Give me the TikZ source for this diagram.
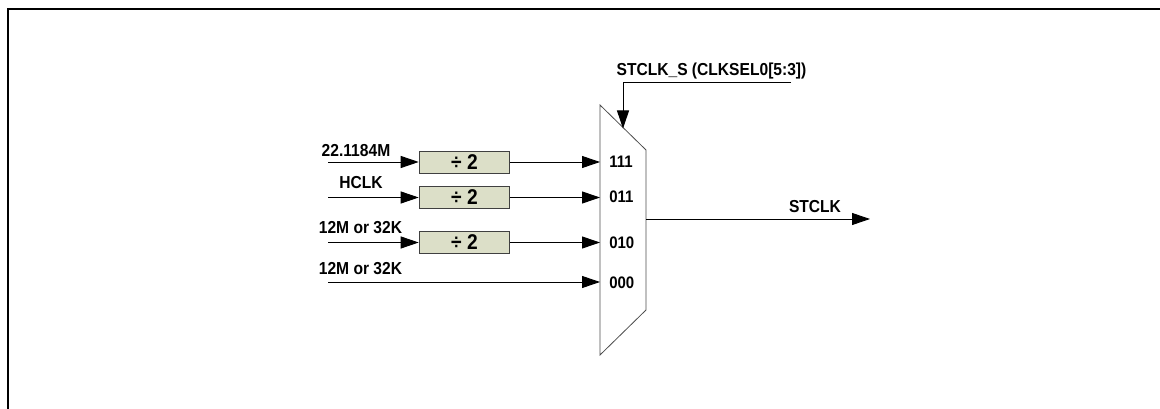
\documentclass[tikz,border=0pt]{standalone}
\usepackage{fontspec}
\setmainfont{Liberation Sans}[FakeStretch=0.9]
\usetikzlibrary{arrows.meta}
\definecolor{divfill}{HTML}{DCDFC8}
\tikzset{
  lbl/.style={font=\bfseries\fontsize{13}{15}\selectfont, inner sep=0pt},
  sellbl/.style={font=\bfseries\fontsize{12.5}{14}\selectfont, inner sep=0pt, anchor=west},
  divbox/.style={draw=black!75, fill=divfill, line width=0.7pt, minimum width=68pt,
    minimum height=16.5pt, inner sep=0pt, font=\bfseries\fontsize{16}{18}\selectfont},
  sig/.style={line width=0.7pt, -{Triangle[length=13.5pt,width=9pt]}},
}
\begin{document}
\begin{tikzpicture}[x=0.75pt,y=-0.75pt]
  \useasboundingbox (0,0) rectangle (1160,409);
  \draw[line width=2pt] (8,409) -- (8,9) -- (1160,9);
  % multiplexer
  \draw[black!70, line width=0.6pt] (600,105) -- (646,150) -- (646,310) -- (600,355) -- cycle;
  \coordinate (m111) at (600,162);
  \coordinate (m011) at (600,197.5);
  \coordinate (m010) at (600,242.5);
  \coordinate (m000) at (600,282);
  \coordinate (mout) at (646,219);
  \node[sellbl] (s111) at (609,162) {111};
  \node[sellbl] (s011) at (609,196.5) {011};
  \node[sellbl] (s010) at (609,243) {010};
  \node[sellbl] (s000) at (609,283) {000};
  % dividers
  \node[divbox] (div1) at (464.5,162) {÷ 2};
  \node[divbox] (div2) at (464.5,197.5) {÷ 2};
  \node[divbox] (div3) at (464.5,242.5) {÷ 2};
  % inputs
  \coordinate (in1) at (328,162);
  \coordinate (in2) at (328,197.5);
  \coordinate (in3) at (328,242.5);
  \coordinate (in4) at (328,282);
  \node[lbl] (hirc) at (356,151) {22.1184M};
  \node[lbl] (hclk) at (361,182.5) {HCLK};
  \node[lbl] (lxt1) at (360.5,228) {12M or 32K};
  \node[lbl] (lxt2) at (360.5,268.5) {12M or 32K};
  \draw[sig] (in1) -- (div1.west);
  \draw[sig] (in2) -- (div2.west);
  \draw[sig] (in3) -- (div3.west);
  \draw[sig] (div1.east) -- (m111);
  \draw[sig] (div2.east) -- (m011);
  \draw[sig] (div3.east) -- (m010);
  \draw[sig] (in4) -- (m000);
  % select
  \coordinate (selin) at (791,82);
  \coordinate (selend) at (623,128.5);
  \node[lbl] (stclks) at (711.5,71) {STCLK\_S (CLKSEL0[5:3])};
  \draw[sig] (selin) -| (selend);
  % output
  \coordinate (out) at (870,219);
  \node[lbl] (stclk) at (815,207) {STCLK};
  \draw[sig] (mout) -- (out);
\end{tikzpicture}
\end{document}
